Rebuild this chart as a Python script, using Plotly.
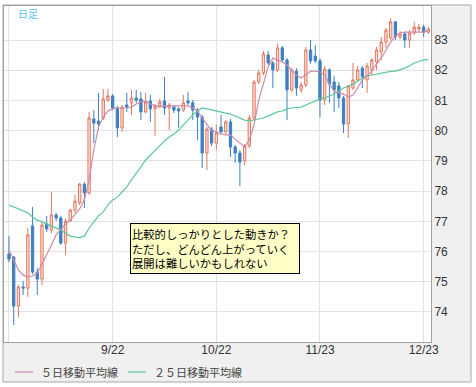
import plotly.graph_objects as go
import pandas as pd

# ---- data ----
dates = [d.strftime("%Y-%m-%d") for d in pd.bdate_range("2015-08-21", "2015-12-24")]

open_ = [75.92, 75.82, 74.20, 74.83, 74.79, 76.85, 75.32, 75.09, 76.91, 76.71,
         77.21, 77.11, 76.28, 77.01, 77.37, 77.61, 78.23, 77.94, 80.39, 80.32,
         80.42, 81.01, 81.15, 80.75, 80.09, 80.85, 80.92, 81.08, 81.05, 80.62,
         80.98, 80.72, 80.82, 80.98, 80.75, 80.78, 80.72, 80.68, 80.98, 80.92,
         80.68, 80.45, 79.26, 80.05, 79.59, 80.12, 79.96, 80.29, 79.46, 79.26,
         79.00, 79.49, 80.42, 81.61, 81.91, 82.50, 82.24, 82.01, 82.74, 82.34,
         81.35, 81.97, 81.35, 81.51, 82.67, 82.47, 82.31, 81.01, 82.01, 81.61,
         81.48, 81.08, 80.22, 81.41, 81.68, 82.07, 81.68, 82.01, 82.27, 82.60,
         82.93, 83.07, 83.60, 83.10, 83.20, 83.00, 83.23, 83.36, 83.43, 83.26]

high = [76.51, 75.85, 74.89, 75.03, 76.78, 77.47, 75.46, 76.98, 77.18, 77.97,
        77.28, 77.18, 77.08, 77.41, 77.87, 78.27, 78.30, 80.62, 80.68, 81.25,
        81.38, 81.38, 81.21, 80.82, 80.85, 81.25, 81.35, 81.35, 81.28, 81.25,
        81.18, 80.88, 81.05, 81.78, 80.92, 80.85, 80.78, 81.18, 81.28, 81.01,
        80.75, 80.52, 80.12, 80.12, 80.19, 80.52, 80.35, 80.39, 79.53, 79.36,
        79.56, 80.52, 81.68, 82.01, 82.64, 82.64, 82.31, 82.87, 82.80, 82.40,
        82.07, 82.07, 81.61, 82.77, 83.00, 82.83, 82.40, 82.14, 82.07, 81.81,
        81.61, 81.15, 81.50, 82.24, 82.14, 82.14, 82.24, 82.40, 82.77, 83.10,
        83.40, 83.73, 83.63, 83.30, 83.26, 83.33, 83.60, 83.53, 83.50, 83.43]

low = [75.65, 73.57, 73.83, 74.56, 74.50, 75.26, 74.56, 74.89, 76.65, 76.61,
       77.01, 76.22, 75.89, 76.98, 77.28, 77.54, 77.44, 77.87, 79.59, 80.02,
       80.35, 80.95, 80.68, 79.79, 79.96, 80.62, 80.52, 80.92, 80.35, 80.58,
       80.29, 79.82, 80.75, 80.52, 80.02, 80.58, 80.09, 80.62, 80.85, 80.35,
       79.69, 78.76, 78.70, 79.49, 79.36, 79.89, 79.89, 79.13, 78.93, 78.17,
       78.86, 79.43, 80.35, 81.54, 81.84, 82.17, 81.41, 81.94, 82.27, 80.35,
       81.28, 81.15, 81.25, 81.44, 82.21, 82.24, 80.45, 80.85, 80.92, 80.62,
       80.75, 79.92, 79.76, 81.35, 81.61, 81.41, 81.25, 81.84, 82.01, 82.34,
       82.74, 83.00, 83.00, 83.03, 82.74, 82.74, 83.17, 83.26, 83.10, 83.20]

close = [75.75, 74.20, 74.83, 74.79, 76.55, 75.32, 75.09, 76.88, 76.75, 77.21,
         77.11, 76.28, 77.01, 77.37, 77.67, 78.23, 77.94, 80.42, 80.25, 80.22,
         81.05, 81.15, 80.75, 80.09, 80.78, 80.78, 81.08, 81.01, 80.62, 80.95,
         80.72, 80.82, 80.95, 80.75, 80.85, 80.68, 80.65, 80.92, 80.92, 80.68,
         80.45, 79.26, 80.05, 79.59, 79.92, 79.96, 80.29, 79.46, 79.26, 78.96,
         79.49, 80.42, 81.61, 81.91, 82.54, 82.24, 82.01, 82.74, 82.34, 81.35,
         82.01, 81.41, 81.51, 82.67, 82.31, 82.31, 81.01, 82.04, 81.54, 81.35,
         81.08, 80.22, 81.48, 81.68, 82.01, 81.78, 82.14, 82.34, 82.67, 82.93,
         83.33, 83.60, 83.10, 83.20, 83.00, 83.23, 83.43, 83.43, 83.26, 83.36]

ma5 = [76.05, 75.72, 75.39, 75.22, 75.16, 75.19, 75.29, 75.59, 75.89, 76.22,
       76.55, 76.75, 76.91, 77.04, 77.21, 77.41, 77.71, 78.37, 79.36, 80.12,
       80.45, 80.65, 80.72, 80.75, 80.75, 80.75, 80.78, 80.88, 80.95, 80.98,
       80.88, 80.82, 80.78, 80.82, 80.82, 80.82, 80.82, 80.82, 80.82, 80.75,
       80.65, 80.42, 80.19, 79.99, 79.96, 79.89, 79.86, 79.86, 79.72, 79.59,
       79.46, 79.69, 80.19, 81.01, 81.58, 82.11, 82.40, 82.34, 82.27, 82.17,
       82.01, 81.84, 81.74, 81.84, 81.97, 81.97, 81.94, 81.84, 81.54, 81.31,
       81.25, 81.21, 81.11, 81.18, 81.41, 81.68, 81.81, 81.97, 82.21, 82.40,
       82.67, 82.93, 83.13, 83.23, 83.26, 83.26, 83.26, 83.26, 83.26, 83.30]

ma25 = [77.54, 77.47, 77.41, 77.34, 77.28, 77.14, 77.04, 76.98, 76.91, 76.85,
        76.78, 76.71, 76.61, 76.51, 76.48, 76.46, 76.51, 76.78, 76.98, 77.18,
        77.31, 77.54, 77.71, 77.80, 77.97, 78.14, 78.37, 78.57, 78.80, 79.03,
        79.19, 79.36, 79.49, 79.66, 79.79, 79.89, 80.02, 80.19, 80.35, 80.52,
        80.65, 80.75, 80.72, 80.68, 80.65, 80.62, 80.58, 80.55, 80.49, 80.42,
        80.35, 80.32, 80.35, 80.39, 80.42, 80.49, 80.55, 80.62, 80.65, 80.72,
        80.75, 80.77, 80.78, 80.85, 80.92, 80.98, 81.05, 81.08, 81.15, 81.21,
        81.31, 81.41, 81.48, 81.54, 81.64, 81.74, 81.81, 81.84, 81.87, 81.91,
        81.94, 81.96, 81.97, 82.01, 82.07, 82.14, 82.24, 82.29, 82.34, 82.35]

tick_dates = ["2015-08-21", "2015-09-22", "2015-10-22", "2015-11-23", "2015-12-23"]
tick_labels = ["", "9/22", "10/22", "11/23", "12/23"]
y_ticks = [74, 75, 76, 77, 78, 79, 80, 81, 82, 83]

legend_names = ["５日移動平均線", "２５日移動平均線"]
note_lines = ["比較的しっかりとした動きか？", "ただし、どんどん上がっていく", "展開は難しいかもしれない"]
chart_label = "日足"

PINK = "#cf8aab"
GREEN = "#5cc995"

fig = go.Figure()
fig.add_trace(go.Candlestick(
    x=dates, open=open_, high=high, low=low, close=close,
    increasing=dict(line=dict(color="#e3775d", width=1), fillcolor="#fbe2da"),
    decreasing=dict(line=dict(color="#3d80c2", width=1), fillcolor="#3d80c2"),
    whiskerwidth=0, showlegend=False, hoverinfo="skip"))
fig.add_trace(go.Scatter(x=dates, y=ma25, mode="lines", name=legend_names[1],
                         line=dict(color=GREEN, width=1.2), showlegend=False, hoverinfo="skip"))
fig.add_trace(go.Scatter(x=dates, y=ma5, mode="lines", name=legend_names[0],
                         line=dict(color=PINK, width=1.2), showlegend=False, hoverinfo="skip"))

L, R, T, B = 4, 45, 6, 45
W, H = 476, 387
pw, ph = W - L - R, H - T - B

def px(x):
    return (x - L) / pw

def py(y):
    return (H - B - y) / ph

shapes = [
    dict(type="rect", xref="paper", yref="paper", x0=px(3), x1=px(471), y0=py(382), y1=py(5),
         fillcolor="#f0f0f0", line=dict(color="#a8a8a8", width=1), layer="below"),
    dict(type="rect", xref="paper", yref="paper", x0=0, x1=1, y0=0, y1=1,
         fillcolor="white", line=dict(width=0), layer="below"),
    dict(type="line", xref="paper", yref="paper", x0=px(15), x1=px(33), y0=py(372), y1=py(372),
         line=dict(color=PINK, width=1.2)),
    dict(type="line", xref="paper", yref="paper", x0=px(128), x1=px(146), y0=py(372), y1=py(372),
         line=dict(color=GREEN, width=1.2)),
]

annotations = [
    dict(text=chart_label, xref="paper", yref="paper", x=px(16), y=py(13), xanchor="left",
         yanchor="middle", showarrow=False,
         font=dict(family="Noto Sans CJK JP", size=10, color="#5cc3ea")),
    dict(text="<br>".join(note_lines), xref="paper", yref="paper", x=px(130), y=py(223),
         xanchor="left", yanchor="top", showarrow=False, align="left",
         width=166, height=47, borderpad=1, borderwidth=1, bordercolor="#000000",
         bgcolor="#ffffc6",
         font=dict(family="Noto Sans CJK JP", size=11.3, color="#000000")),
    dict(text=legend_names[0], xref="paper", yref="paper", x=px(39), y=py(372),
         xanchor="left", yanchor="middle", showarrow=False,
         font=dict(family="Noto Sans CJK JP", size=11, color="#444444")),
    dict(text=legend_names[1], xref="paper", yref="paper", x=px(152), y=py(372),
         xanchor="left", yanchor="middle", showarrow=False,
         font=dict(family="Noto Sans CJK JP", size=11, color="#444444")),
]

fig.update_layout(
    width=W, height=H,
    margin=dict(l=L, r=R, t=T, b=B, pad=0),
    paper_bgcolor="white", plot_bgcolor="white",
    showlegend=False,
    shapes=shapes, annotations=annotations,
    xaxis=dict(type="category", range=[-1.06, 89.56], tickmode="array",
               tickvals=tick_dates, ticktext=tick_labels,
               showgrid=True, gridcolor="#e2e2e2", gridwidth=1,
               showline=True, linecolor="#a0a0a0", linewidth=1, mirror=True,
               ticks="", ticklabelstandoff=-3, rangeslider=dict(visible=False),
               tickfont=dict(family="Liberation Sans", size=12, color="#333333"),
               fixedrange=True),
    yaxis=dict(side="right", range=[73.007, 84.125], tickmode="array", tickvals=y_ticks,
               showgrid=True, gridcolor="#e2e2e2", gridwidth=1,
               showline=True, linecolor="#a0a0a0", linewidth=1, mirror=True,
               ticks="", ticklabelstandoff=0, zeroline=False,
               tickfont=dict(family="Liberation Sans", size=12, color="#333333"),
               fixedrange=True),
)

fig.write_html("out.html", config={"displayModeBar": False},
               post_script="document.body.style.margin='0px';")
